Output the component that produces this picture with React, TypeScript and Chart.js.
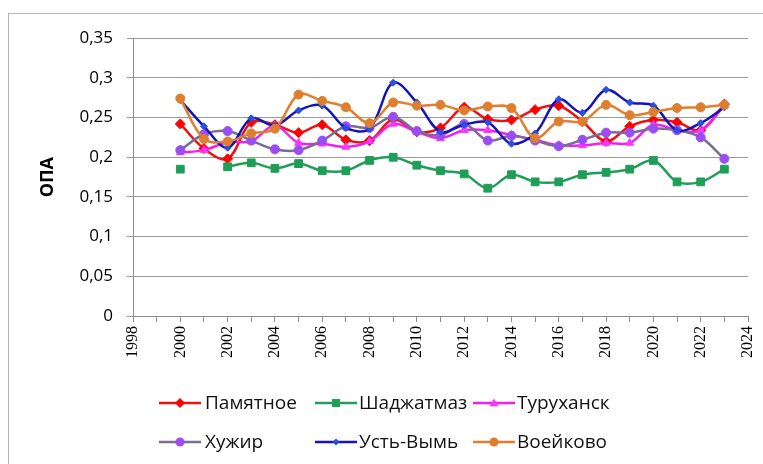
import React, { useEffect, useRef } from "react";
import { Chart, registerables } from "chart.js";

Chart.register(...registerables);

const years = [2000, 2001, 2002, 2003, 2004, 2005, 2006, 2007, 2008, 2009, 2010, 2011, 2012, 2013, 2014, 2015, 2016, 2017, 2018, 2019, 2020, 2021, 2022, 2023];

const pamyatnoe = [0.242, 0.211, 0.198, 0.244, 0.241, 0.231, 0.241, 0.222, 0.221, 0.248, 0.232, 0.237, 0.263, 0.248, 0.247, 0.26, 0.265, 0.245, 0.22, 0.239, 0.247, 0.244, 0.234, 0.267];
const shadzhatmaz = [0.185, null, 0.188, 0.193, 0.186, 0.192, 0.183, 0.183, 0.196, 0.2, 0.19, 0.183, 0.179, 0.161, 0.178, 0.169, 0.169, 0.178, 0.181, 0.185, 0.196, 0.169, 0.169, 0.185];
const turukhansk = [0.206, 0.209, 0.219, 0.22, 0.24, 0.218, 0.217, 0.213, 0.22, 0.242, 0.232, 0.224, 0.234, 0.234, 0.228, 0.222, 0.215, 0.215, 0.218, 0.218, 0.241, 0.234, 0.234, 0.265];
const khuzhir = [0.209, 0.229, 0.233, 0.221, 0.21, 0.209, 0.221, 0.239, 0.237, 0.251, 0.233, 0.228, 0.242, 0.221, 0.227, 0.221, 0.214, 0.222, 0.231, 0.231, 0.236, 0.234, 0.225, 0.198];
const ustVym = [0.272, 0.239, 0.212, 0.249, 0.24, 0.259, 0.265, 0.237, 0.236, 0.294, 0.269, 0.232, 0.241, 0.244, 0.217, 0.23, 0.273, 0.256, 0.285, 0.269, 0.265, 0.234, 0.243, 0.263];
const voeikovo = [0.274, 0.223, 0.22, 0.23, 0.236, 0.279, 0.271, 0.263, 0.243, 0.269, 0.265, 0.266, 0.259, 0.264, 0.262, 0.224, 0.245, 0.245, 0.266, 0.253, 0.257, 0.262, 0.263, 0.266];

const seriesNames = ["Памятное", "Шаджатмаз", "Туруханск", "Хужир", "Усть-Вымь", "Воейково"];
const yTickLabels = ["0", "0,05", "0,1", "0,15", "0,2", "0,25", "0,3", "0,35"];
const yTitle = "ОПА";

type Style = { line: string; marker: string; shape: string; r: number };
const styles: Style[] = [
  { line: "#ee1111", marker: "#ff0000", shape: "rectRot", r: 5 },
  { line: "#1f9e58", marker: "#1f9e58", shape: "rect", r: 5.5 },
  { line: "#ee22ee", marker: "#ff33ff", shape: "triangle", r: 4.5 },
  { line: "#7a6c94", marker: "#9a4df5", shape: "circle", r: 4.5 },
  { line: "#1414b8", marker: "#2a4ee0", shape: "rectRot", r: 3.5 },
  { line: "#e07f2e", marker: "#dd7f2e", shape: "circle", r: 4.5 },
];

const allSeries = [pamyatnoe, shadzhatmaz, turukhansk, khuzhir, ustVym, voeikovo];

function LegendMarker({ s }: { s: Style }) {
  const cx = 21, cy = 7;
  let shape: React.ReactNode = null;
  if (s.shape === "rectRot") {
    const d = s.r;
    shape = <polygon points={`${cx},${cy - d} ${cx + d},${cy} ${cx},${cy + d} ${cx - d},${cy}`} fill={s.marker} />;
  } else if (s.shape === "rect") {
    const h = s.r * 0.72;
    shape = <rect x={cx - h} y={cy - h} width={2 * h} height={2 * h} fill={s.marker} />;
  } else if (s.shape === "triangle") {
    const d = s.r;
    shape = <polygon points={`${cx},${cy - d} ${cx + d},${cy + d * 0.7} ${cx - d},${cy + d * 0.7}`} fill={s.marker} />;
  } else {
    shape = <circle cx={cx} cy={cy} r={s.r} fill={s.marker} />;
  }
  return (
    <svg width={42} height={14} style={{ position: "absolute", left: 0, top: -7 }}>
      <line x1={0} y1={cy} x2={42} y2={cy} stroke={s.line} strokeWidth={2.5} />
      {shape}
    </svg>
  );
}

export default function App() {
  const canvasRef = useRef<HTMLCanvasElement | null>(null);

  useEffect(() => {
    const canvas = canvasRef.current;
    if (!canvas) return;
    const datasets = allSeries.map((vals, i) => ({
      label: seriesNames[i],
      data: years.map((yr, j) => ({ x: yr, y: vals[j] })),
      borderColor: styles[i].line,
      backgroundColor: styles[i].marker,
      borderWidth: 2.5,
      tension: 0.35,
      spanGaps: false,
      pointStyle: styles[i].shape as any,
      pointRadius: styles[i].r,
      pointBackgroundColor: styles[i].marker,
      pointBorderColor: styles[i].marker,
      pointBorderWidth: 1,
      order: 6 - i,
    }));
    const chart = new Chart(canvas, {
      type: "line",
      data: { datasets },
      options: {
        animation: false,
        responsive: false,
        devicePixelRatio: 1,
        layout: { padding: { left: 0, right: 15, top: 21, bottom: 88 } },
        plugins: { legend: { display: false }, tooltip: { enabled: false } },
        scales: {
          x: {
            type: "linear",
            min: 1998,
            max: 2024,
            afterFit: (s: any) => { s.height = 60; s.paddingRight = 0; s.paddingLeft = 0; },
            ticks: {
              stepSize: 1,
              autoSkip: false,
              maxRotation: 90,
              minRotation: 90,
              padding: 4,
              color: "#000",
              font: { family: "Liberation Serif", size: 16 },
              callback: (v: any) => (Number(v) % 2 === 0 ? String(v) : ""),
            },
            grid: { drawOnChartArea: false, drawTicks: true, tickLength: 6, color: "#8c8c8c" },
            border: { color: "#8c8c8c", width: 1 },
          },
          y: {
            min: 0,
            max: 0.35,
            afterFit: (s: any) => { s.width = 124; },
            ticks: {
              stepSize: 0.05,
              padding: 14,
              color: "#000",
              font: { family: "Open Sans", size: 17 },
              callback: (_v: any, i: number) => yTickLabels[i],
            },
            grid: { color: "#9a9a9a", tickLength: 6, lineWidth: 1 },
            border: { color: "#8c8c8c", width: 1 },
            title: {
              display: true,
              text: yTitle,
              color: "#000",
              font: { family: "Open Sans", size: 18, weight: "bold" },
              padding: { top: 28, bottom: 0 },
            },
          },
        },
      },
    });
    return () => chart.destroy();
  }, []);

  const legendCols = [159, 315, 473];
  const legendRows = [403, 442];
  const textOffsets = [46, 44, 44];

  return (
    <div style={{ position: "absolute", left: 0, top: 0, width: 763, height: 464, overflow: "hidden", background: "#fff" }}>
      <div style={{ position: "absolute", left: 8, top: 13, width: 800, height: 500, border: "1px solid #b4b4b4", boxSizing: "border-box" }} />
      <canvas ref={canvasRef} width={754} height={450} style={{ position: "absolute", left: 9, top: 14, width: 754, height: 450 }} />
      {seriesNames.map((name, i) => {
        const col = i % 3;
        const row = Math.floor(i / 3);
        return (
          <div key={name} style={{ position: "absolute", left: legendCols[col], top: legendRows[row], height: 0 }}>
            <LegendMarker s={styles[i]} />
            <span style={{ position: "absolute", left: textOffsets[col], top: -13, whiteSpace: "nowrap", fontFamily: "Open Sans", fontSize: 19, lineHeight: "24px", color: "#111" }}>{name}</span>
          </div>
        );
      })}
    </div>
  );
}
